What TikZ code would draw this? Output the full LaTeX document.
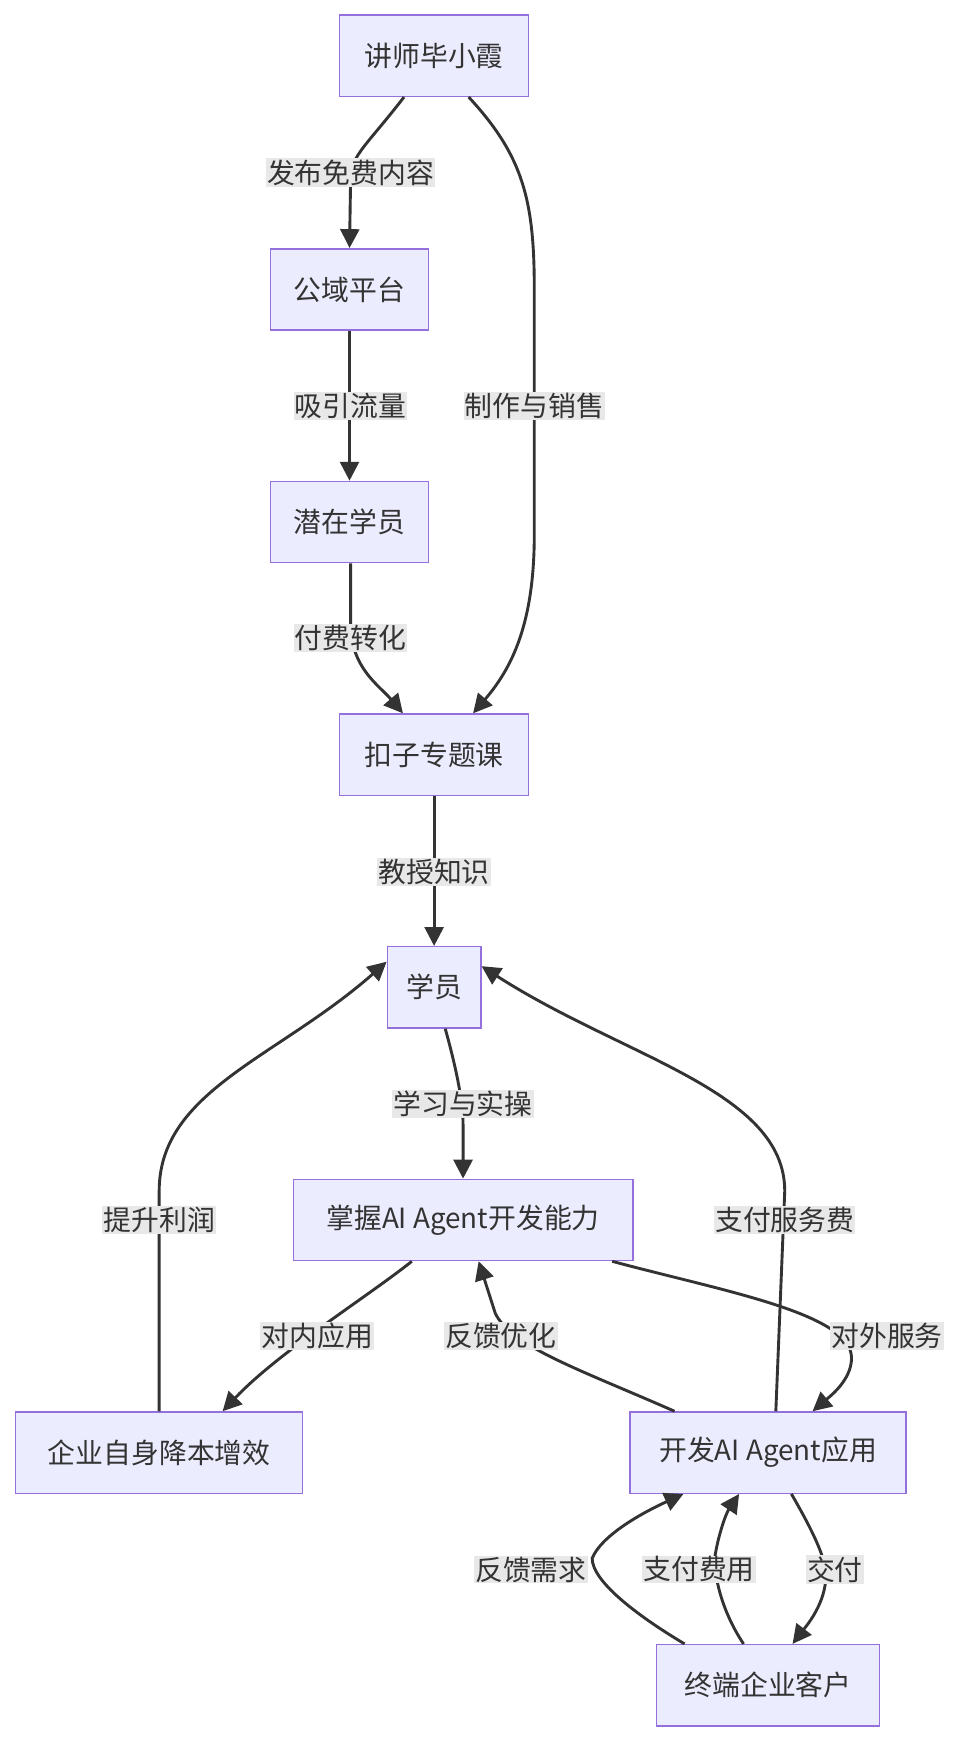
\documentclass[tikz,border=0pt]{standalone}
\usepackage{fontspec}
\setmainfont{Noto Sans CJK SC}
\usetikzlibrary{arrows.meta}
\definecolor{nfill}{HTML}{ECECFF}
\definecolor{ndraw}{HTML}{9370DB}
\definecolor{ln}{HTML}{333333}
\definecolor{lbg}{HTML}{E8E8E8}
\begin{document}
\begin{tikzpicture}[x=1pt,y=-1pt,
 box/.style={draw=ndraw,fill=nfill,line width=1.3pt,minimum height=73pt,inner xsep=12pt,font=\fontsize{25}{30}\selectfont,text=ln},
 lab/.style={fill=lbg,inner sep=1pt,font=\fontsize{25}{30}\selectfont,text=ln},
 e/.style={draw=ln,line width=2.6pt,-{Triangle[length=17pt,width=17pt]}}]
\useasboundingbox (0,0) rectangle (870,1565);
\node[box,minimum width=170pt] (a) at (390,50) {讲师毕小霞};
\node[box,minimum width=142pt] (b) at (314,260) {公域平台};
\node[box,minimum width=142pt] (c) at (314,469) {潜在学员};
\node[box,minimum width=170pt] (d) at (390,678) {扣子专题课};
\node[box,minimum width=84pt] (s) at (390,887) {学员};
\node[box,minimum width=305pt] (m) at (416,1096) {掌握AI Agent开发能力};
\node[box,minimum width=258pt] (q) at (143,1305) {企业自身降本增效};
\node[box,minimum width=248pt] (k) at (690,1305) {开发AI Agent应用};
\node[box,minimum width=200pt] (z) at (690,1514) {终端企业客户};

\draw[e] ([xshift=-27pt]a.south) .. controls (330,130) and (315,140) .. (315,160) -- (b.north);
\draw[e] ([xshift=31pt]a.south) .. controls (470,140) and (480,180) .. (480,260) -- (480,480) .. controls (480,560) and (460,600) .. ([xshift=35pt]d.north);
\draw[e] (b) -- (c);
\draw[e] ([xshift=1pt]c.south) -- (315,560) .. controls (315,600) and (340,615) .. ([xshift=-28pt]d.north);
\draw[e] (d) -- (s);
\draw[e] ([xshift=10pt]s.south) .. controls (410,960) and (416,990) .. (416,1010) -- (m.north);
\draw[e] ([xshift=-46pt]m.south) .. controls (330,1165) and (250,1215) .. ([xshift=57pt]q.north);
\draw[e] (q.north) -- (143,1070) .. controls (143,980) and (250,950) .. ([yshift=23pt]s.west);
\draw[e] ([xshift=-84pt]k.north) .. controls (520,1230) and (460,1210) .. (445,1180) -- ([xshift=14pt]m.south);
\draw[e] ([xshift=134pt]m.south) .. controls (650,1160) and (765,1180) .. (765,1220) .. controls (765,1240) and (745,1255) .. ([xshift=40pt]k.north);
\draw[e] ([xshift=7pt]k.north) -- (705,1070) .. controls (705,980) and (560,950) .. ([yshift=19pt]s.east);
\draw[e] ([xshift=-75pt]z.north) .. controls (570,1450) and (532,1420) .. (532,1400) .. controls (540,1380) and (575,1360) .. ([xshift=-76pt]k.south);
\draw[e] ([xshift=-22pt]z.north) .. controls (650,1450) and (642,1420) .. (642,1400) .. controls (645,1380) and (652,1360) .. ([xshift=-26pt]k.south);
\draw[e] ([xshift=21pt]k.south) .. controls (730,1375) and (742,1400) .. (742,1415) .. controls (742,1440) and (725,1460) .. ([xshift=22pt]z.north);

\node[lab] (l1) at (315,155) {发布免费内容};
\node[lab] (l2) at (480,365) {制作与销售};
\node[lab] (l3) at (315,365) {吸引流量};
\node[lab] (l4) at (315,573) {付费转化};
\node[lab] (l5) at (390,783) {教授知识};
\node[lab] (l6) at (416,992) {学习与实操};
\node[lab] (l7) at (143,1096) {提升利润};
\node[lab] (l8) at (705,1096) {支付服务费};
\node[lab] (l9) at (285,1200) {对内应用};
\node[lab] (l10) at (450,1200) {反馈优化};
\node[lab] (l11) at (797,1200) {对外服务};
\node[lab] (l12) at (477,1410) {反馈需求};
\node[lab] (l13) at (628,1410) {支付费用};
\node[lab] (l14) at (750,1410) {交付};
\end{tikzpicture}
\end{document}
